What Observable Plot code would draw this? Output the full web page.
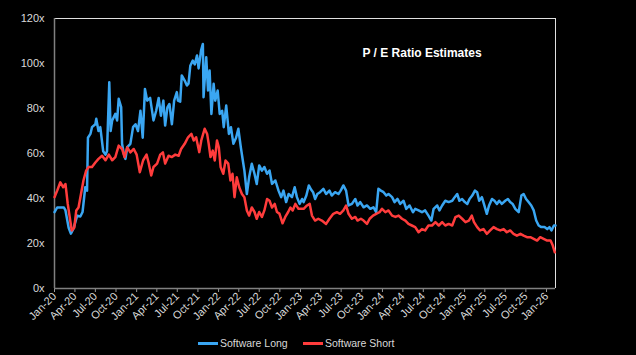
<!DOCTYPE html>
<html>
<head>
<meta charset="utf-8">
<script src="https://cdn.jsdelivr.net/npm/d3@7"></script>
<script src="https://cdn.jsdelivr.net/npm/@observablehq/plot@0.6"></script>
<style>
  html, body { margin: 0; padding: 0; background: #000; }
  #wrap { position: relative; width: 636px; height: 355px; overflow: hidden; background: #000; font-family: "Liberation Sans", Arial, sans-serif; }
  #legend { position: absolute; top: 332px; left: 0; width: 636px; height: 23px; color: #d9d9d9; font-size: 10.5px; }
  .item { position: absolute; top: 4px; display: flex; align-items: center; height: 14px; }
  .sw { width: 20px; height: 3px; margin-right: 2px; }
</style>
</head>
<body>
<div id="wrap">
  <div id="chart"></div>
  <div id="legend"></div>
</div>
<script>
const seriesNames = ["Software Long", "Software Short"];
const seriesColors = ["#3aa6f2", "#ff3c3c"];
const yTicks = [0, 20, 40, 60, 80, 100, 120];
const xTicks = ["2020-01-01","2020-04-01","2020-07-01","2020-10-01","2021-01-01","2021-04-01","2021-07-01","2021-10-01","2022-01-01","2022-04-01","2022-07-01","2022-10-01","2023-01-01","2023-04-01","2023-07-01","2023-10-01","2024-01-01","2024-04-01","2024-07-01","2024-10-01","2025-01-01","2025-04-01","2025-07-01","2025-10-01","2026-01-01"];
const xDomain = ["2020-01-01", "2026-02-10"];
const chartTitle = "P / E Ratio Estimates";

const longDates = ["2020-01-01","2020-01-13","2020-02-12","2020-02-19","2020-03-04","2020-03-14","2020-03-26","2020-04-11","2020-04-25","2020-05-05","2020-05-17","2020-05-25","2020-05-29","2020-06-09","2020-06-16","2020-07-01","2020-07-05","2020-07-15","2020-07-23","2020-08-05","2020-08-15","2020-08-22","2020-09-01","2020-09-07","2020-09-14","2020-09-28","2020-10-06","2020-10-13","2020-10-24","2020-10-28","2020-11-05","2020-11-12","2020-11-20","2020-12-04","2020-12-16","2020-12-27",
"2021-01-07","2021-01-18","2021-01-28","2021-02-07","2021-02-17","2021-03-02","2021-03-17","2021-03-29","2021-04-09","2021-04-19","2021-04-30","2021-05-08","2021-05-18","2021-05-27","2021-06-07","2021-06-17","2021-06-29","2021-07-04","2021-07-14","2021-07-21","2021-08-03","2021-08-13","2021-08-20","2021-08-28","2021-09-08","2021-09-17","2021-09-27","2021-10-04","2021-10-15","2021-10-23","2021-10-26","2021-11-07","2021-11-15","2021-11-22","2021-11-30","2021-12-10","2021-12-17","2021-12-28",
"2022-01-06","2022-01-17","2022-01-24","2022-02-04","2022-02-16","2022-02-25","2022-03-08","2022-03-20","2022-03-30","2022-04-10","2022-04-19","2022-04-26","2022-05-07","2022-05-17","2022-05-29","2022-06-10","2022-06-20","2022-07-01","2022-07-13","2022-07-24","2022-08-05","2022-08-16","2022-08-27","2022-09-11","2022-09-25","2022-10-07","2022-10-17","2022-10-29","2022-11-09","2022-11-24","2022-12-06","2022-12-16","2022-12-28",
"2023-01-08","2023-01-15","2023-01-27","2023-02-07","2023-02-17","2023-02-26","2023-03-07","2023-03-17","2023-03-29","2023-04-13","2023-04-25","2023-05-10","2023-05-20","2023-06-04","2023-06-19","2023-06-29","2023-07-11","2023-07-23","2023-08-03","2023-08-18","2023-09-02","2023-09-12","2023-09-24","2023-10-09","2023-10-24","2023-11-08","2023-11-22","2023-12-04","2023-12-14","2023-12-25",
"2024-01-06","2024-01-18","2024-01-28","2024-02-13","2024-02-24","2024-03-08","2024-03-20","2024-04-04","2024-04-16","2024-05-01","2024-05-16","2024-05-26","2024-06-10","2024-06-25","2024-07-09","2024-07-24","2024-08-06","2024-08-16","2024-09-01","2024-09-11","2024-09-23","2024-10-07","2024-10-22","2024-11-07","2024-11-18","2024-11-29","2024-12-09","2024-12-21",
"2025-01-02","2025-01-13","2025-01-23","2025-02-04","2025-02-16","2025-02-26","2025-03-07","2025-03-19","2025-03-30","2025-04-10","2025-04-20","2025-05-03","2025-05-14","2025-05-25","2025-06-04","2025-06-16","2025-07-01","2025-07-13","2025-07-23","2025-08-03","2025-08-15","2025-08-30","2025-09-11","2025-09-21","2025-10-02","2025-10-13","2025-10-25","2025-11-05","2025-11-16","2025-11-27","2025-12-09","2025-12-23","2026-01-04","2026-01-14","2026-01-23","2026-02-03","2026-02-10"];
const longValues = [33.9,36,36,34.7,27,24.4,26.7,32.4,32,34,45,43.5,67,68.7,71.7,73,75.4,70,71.7,61,59.5,61,91.7,70,74.7,77.6,74.7,84.3,80.6,64.3,59.8,57.6,62.8,64.3,71.7,73,
70,79,67,88.7,83.5,84.7,74.7,79,84.7,76.8,83.5,72.4,80.5,82,73,83.5,87.3,83.5,83,94.7,92.4,90.2,91,99,101.3,99.6,103.6,97.8,105.8,108.7,85,102.8,88,96.9,77.6,91,83.5,88,
77.6,79,71.7,81.3,68.7,71.7,64.3,67,71,62.8,56.9,52.4,42,49.4,55.4,51,46.4,54.7,52.4,54,51,52.4,46.5,48,43.5,40.6,43.5,38.4,42,40.6,45,40.6,37.6,
39.8,38.4,41.3,45.8,44,42.8,39.8,42,42.8,44.3,42,43.5,41.3,42.8,42,43.5,45.8,43.5,36.9,37.6,39.8,36.9,38.4,36.1,36.9,35.4,36.1,33.9,44.3,43.5,
42.8,41.3,42,40.6,38.4,39.8,37.6,39,35.4,36.9,33.9,35.4,34.7,33.9,34.7,32.4,30.2,35.4,36.9,34.7,36.9,39,38.4,39,40.6,42,39,39.8,
38.4,37.6,39.8,41.3,43.5,42.8,39,40.6,36.9,33.2,36.9,39.8,39,37.6,39,37.6,39,39.8,38.4,37.6,35.4,33.9,41.3,42,39.8,38.4,36.9,34.7,30.2,28,27.3,27.3,26.4,27.3,25.8,28,28];

const shortDates = ["2020-01-01","2020-01-13","2020-01-27","2020-02-09","2020-02-19","2020-02-29","2020-03-11","2020-03-18","2020-03-29","2020-04-07","2020-04-17","2020-04-28","2020-05-09","2020-05-21","2020-06-01","2020-06-16","2020-07-01","2020-07-15","2020-07-31","2020-08-15","2020-08-30","2020-09-14","2020-09-28","2020-10-13","2020-10-28","2020-11-08","2020-11-20","2020-12-04","2020-12-19",
"2021-01-01","2021-01-15","2021-01-30","2021-02-14","2021-02-23","2021-03-07","2021-03-17","2021-04-02","2021-04-16","2021-04-28","2021-05-08","2021-05-23","2021-06-07","2021-06-22","2021-07-07","2021-07-18","2021-08-03","2021-08-18","2021-09-02","2021-09-12","2021-09-23","2021-10-07","2021-10-16","2021-10-31","2021-11-11","2021-11-18","2021-11-26","2021-12-06","2021-12-15","2021-12-25",
"2022-01-02","2022-01-10","2022-01-22","2022-02-01","2022-02-13","2022-02-23","2022-03-04","2022-03-13","2022-03-23","2022-04-03","2022-04-15","2022-04-26","2022-05-07","2022-05-17","2022-05-29","2022-06-10","2022-06-20","2022-07-01","2022-07-13","2022-07-24","2022-08-05","2022-08-16","2022-08-27","2022-09-08","2022-09-18","2022-09-29","2022-10-13","2022-10-25","2022-11-07","2022-11-17","2022-11-27","2022-12-09","2022-12-23",
"2023-01-15","2023-01-30","2023-02-11","2023-02-21","2023-03-07","2023-03-21","2023-04-06","2023-04-25","2023-05-10","2023-05-27","2023-06-12","2023-06-26","2023-07-11","2023-07-23","2023-08-03","2023-08-18","2023-09-02","2023-09-12","2023-09-27","2023-10-09","2023-10-24","2023-11-05","2023-11-20","2023-12-04","2023-12-19","2023-12-30",
"2024-01-14","2024-01-28","2024-02-13","2024-02-28","2024-03-13","2024-03-28","2024-04-12","2024-04-26","2024-05-11","2024-05-26","2024-06-10","2024-06-25","2024-07-09","2024-07-24","2024-08-09","2024-08-24","2024-09-08","2024-09-23","2024-10-07","2024-10-22","2024-11-07","2024-11-21","2024-12-06","2024-12-21",
"2025-01-05","2025-01-20","2025-02-02","2025-02-12","2025-02-26","2025-03-11","2025-03-26","2025-04-10","2025-04-25","2025-05-10","2025-05-25","2025-06-09","2025-06-24","2025-07-08","2025-07-23","2025-08-07","2025-08-22","2025-09-07","2025-09-21","2025-10-06","2025-10-21","2025-11-05","2025-11-20","2025-12-04","2025-12-19",
"2026-01-04","2026-01-19","2026-01-29","2026-02-07"];
const shortValues = [40.6,43.5,47.2,45,46.4,37.6,30.2,25.8,27,34.7,36,42,48,52.4,54,54,56,57.6,59,57,59.5,57,58.4,63.5,62,58.4,62.7,60.5,62,
59.5,51.7,57,59.5,56,50.2,54,55.5,59.5,60.5,55.5,59,58.4,59.5,59,62,64.3,67.2,68.7,65.8,67.2,60.6,65.8,71,68.7,64.3,58.4,61.3,56.9,65.8,
62.8,54,51,56.9,55.5,48,51,40.6,49.4,45,42,40.6,34.7,32.4,36,34,31,34,31.8,34.7,39.8,39,36,37.6,34,33.3,29,31.8,34,36,34.7,37.6,35.4,
35.4,36.9,37.6,32.4,30.2,31,30.2,28.7,31,33.2,33.9,33.2,34.7,36.9,33.2,31,31.8,30.2,31,30.2,28.7,31,32.4,33.2,33.9,35.4,
33.9,34.7,32.4,31.8,32.4,31,30.2,28.7,28,27.3,25,26.4,25.8,28,28,29.5,28,29.5,28,28.7,28,31.7,32.4,31,
29.5,30.2,32.4,29.5,27.3,25.8,26.4,24.3,25.8,27.3,26.4,25.8,26.4,25,25.8,24.3,23.5,24.3,23.5,22.8,22.8,22.1,21.3,22.8,22.1,
21.3,21.3,19.1,16.1];

const parse = d3.utcParse("%Y-%m-%d");
const longData = longDates.map((d, i) => ({date: parse(d), value: longValues[i]}));
const shortData = shortDates.map((d, i) => ({date: parse(d), value: shortValues[i]}));
const dom = xDomain.map(parse);

const chart = Plot.plot({
  width: 636,
  height: 332,
  marginLeft: 54,
  marginRight: 81,
  marginTop: 18,
  marginBottom: 44,
  style: {background: "#000", color: "#d9d9d9", fontFamily: "'Liberation Sans', Arial, sans-serif", fontSize: "11px"},
  x: {type: "utc", domain: dom},
  y: {domain: [0, 120]},
  marks: [
    Plot.axisY({ticks: yTicks, tickFormat: d => d + "x", tickSize: 0, tickPadding: 10, label: null, fill: "#d9d9d9"}),
    Plot.axisX({ticks: xTicks.map(parse), tickFormat: d3.utcFormat("%b-%y"), tickRotate: -45, tickSize: 4, tickPadding: 2, stroke: "#9a9a9a", label: null, fill: "#d9d9d9"}),
    Plot.ruleY([120], {stroke: "#e0e0e0", strokeWidth: 1}),
    Plot.ruleX([dom[1]], {stroke: "#e0e0e0", strokeWidth: 1}),
    Plot.ruleX([dom[0]], {stroke: "#808080", strokeWidth: 1.5}),
    Plot.ruleY([0], {stroke: "#808080", strokeWidth: 1.5}),
    Plot.line(longData, {x: "date", y: "value", stroke: seriesColors[0], strokeWidth: 2.5, strokeLinejoin: "round"}),
    Plot.line(shortData, {x: "date", y: "value", stroke: seriesColors[1], strokeWidth: 2.5, strokeLinejoin: "round"}),
    Plot.text([chartTitle], {frameAnchor: "top", dx: 117, dy: 35, lineAnchor: "middle", fill: "#ffffff", fontWeight: "bold", fontSize: 12})
  ]
});
document.getElementById("chart").appendChild(chart);

const legend = document.getElementById("legend");
const lefts = [198, 303];
seriesNames.forEach((name, i) => {
  const item = document.createElement("div");
  item.className = "item";
  item.style.left = lefts[i] + "px";
  const sw = document.createElement("span");
  sw.className = "sw";
  sw.style.background = seriesColors[i];
  const tx = document.createElement("span");
  tx.textContent = name;
  item.appendChild(sw);
  item.appendChild(tx);
  legend.appendChild(item);
});
</script>
</body>
</html>
